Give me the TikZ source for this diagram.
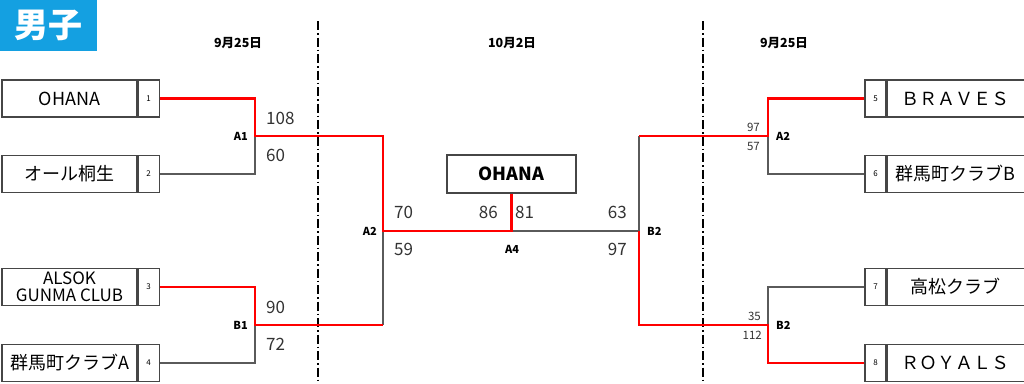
\documentclass[tikz,border=0pt]{standalone}
\usepackage{fontspec}
\setmainfont{Noto Sans CJK JP}
\usetikzlibrary{positioning}
\definecolor{hdrblue}{RGB}{20,160,225}
\definecolor{linegray}{RGB}{90,90,90}
\definecolor{boxgray}{RGB}{70,70,70}
\tikzset{
  team/.style={draw=boxgray,line width=1.1pt,minimum width=135pt,minimum height=37pt,inner sep=0pt,font=\fontsize{18}{15}\selectfont,align=center},
  seed/.style={draw=boxgray,line width=1.1pt,minimum width=21pt,minimum height=37pt,inner sep=0pt,font=\fontsize{8}{8}\selectfont},
  win/.style={draw=red,line width=2.8pt},
  lose/.style={draw=linegray,line width=1.2pt},
  score/.style={font=\fontsize{17}{17}\selectfont,text=black!80,inner sep=0pt},
  subscore/.style={font=\fontsize{11.5}{11.5}\selectfont,text=black!80,inner sep=0pt},
  game/.style={font=\bfseries\fontsize{11}{11}\selectfont,inner sep=0pt},
  day/.style={font=\bfseries\fontsize{12.5}{12.5}\selectfont,inner sep=0pt},
  split/.style={line width=1.6pt,dash pattern=on 9pt off 3pt on 1.5pt off 3pt}
}
\begin{document}
\begin{tikzpicture}[x=1pt,y=-1pt]
\useasboundingbox (0,0) rectangle (1024,383);
\fill[hdrblue] (0,0) rectangle (97,51);
\node[text=white,font=\bfseries\fontsize{34}{34}\selectfont] (hdr) at (48.5,25.5) {男子};
\node[day] (d1) at (238,43) {9月25日};
\node[day] (d2) at (512,43) {10月2日};
\node[day] (d3) at (784,43) {9月25日};
\draw[split] (318,21) -- (318,383);
\draw[split] (703,21) -- (703,383);

\node[team] (t1) at (69.5,98.5) {OHANA};
\node[seed,right=0pt of t1] (s1) {1};
\node[team] (t2) at (69.5,174) {オール桐生};
\node[seed,right=0pt of t2] (s2) {2};
\node[team,font=\fontsize{17}{16.5}\selectfont] (t3) at (69.5,287) {ALSOK\\GUNMA CLUB};
\node[seed,right=0pt of t3] (s3) {3};
\node[team] (t4) at (69.5,363) {群馬町クラブA};
\node[seed,right=0pt of t4] (s4) {4};

\node[seed] (s5) at (875.5,98.5) {5};
\node[team,minimum width=137pt,right=0pt of s5] (t5) {ＢＲＡＶＥＳ};
\node[seed] (s6) at (875.5,174) {6};
\node[team,minimum width=137pt,right=0pt of s6] (t6) {群馬町クラブB};
\node[seed] (s7) at (875.5,287) {7};
\node[team,minimum width=137pt,right=0pt of s7] (t7) {高松クラブ};
\node[seed] (s8) at (875.5,363) {8};
\node[team,minimum width=137pt,right=0pt of s8] (t8) {ＲＯＹＡＬＳ};

\node[team,minimum width=129pt,minimum height=38pt,font=\bfseries\fontsize{18}{18}\selectfont] (champ) at (511.5,174) {OHANA};

\coordinate (a1) at (255,136);
\coordinate (b1) at (255,325);
\coordinate (a2) at (383,231);
\coordinate (b2) at (639,231);
\coordinate (a2r) at (768,136);
\coordinate (b2r) at (768,325);

\draw[lose] (s2.east) -| (a1);
\draw[lose] (s4.east) -| (b1);
\draw[lose] (a2) -- (a2 |- b1);
\draw[lose] (champ.south |- a2) -- (b2) -- (b2 |- a2r);
\draw[lose] (s6.west) -| (a2r);
\draw[lose] (s7.west) -| (b2r);
\draw[win] (s1.east) -| (a1) -| (a2) -| (champ.south);
\draw[win] (s3.east) -| (b1) -- (b1 -| a2);
\draw[win] (s5.west) -| (a2r) -- (a2r -| b2);
\draw[win] (s8.west) -| (b2r) -- (b2r -| b2) -- (b2);

\node[game,anchor=east] (ga1) at (248,136) {A1};
\node[game,anchor=east] (gb1) at (248,325) {B1};
\node[game,anchor=east] (ga2) at (377,231) {A2};
\node[game] (ga4) at (512,249) {A4};
\node[game,anchor=west] (gb2) at (647,231) {B2};
\node[game,anchor=west] (ga2r) at (776,136) {A2};
\node[game,anchor=west] (gb2r) at (776,325) {B2};

\node[score,anchor=west] (p1) at (266,118) {108};
\node[score,anchor=west] (p2) at (266,155) {60};
\node[score,anchor=west] (p3) at (266,307) {90};
\node[score,anchor=west] (p4) at (266,344) {72};
\node[score,anchor=west] (p5) at (394,212) {70};
\node[score,anchor=west] (p6) at (394,249) {59};
\node[score,anchor=east] (p7) at (498,212) {86};
\node[score,anchor=west] (p8) at (515,212) {81};
\node[score,anchor=east] (p9) at (627,212) {63};
\node[score,anchor=east] (p10) at (627,249) {97};
\node[subscore,anchor=east] (p11) at (760,127) {97};
\node[subscore,anchor=east] (p12) at (760,146) {57};
\node[subscore,anchor=east] (p13) at (761,316) {35};
\node[subscore,anchor=east] (p14) at (762,335) {112};
\end{tikzpicture}
\end{document}
